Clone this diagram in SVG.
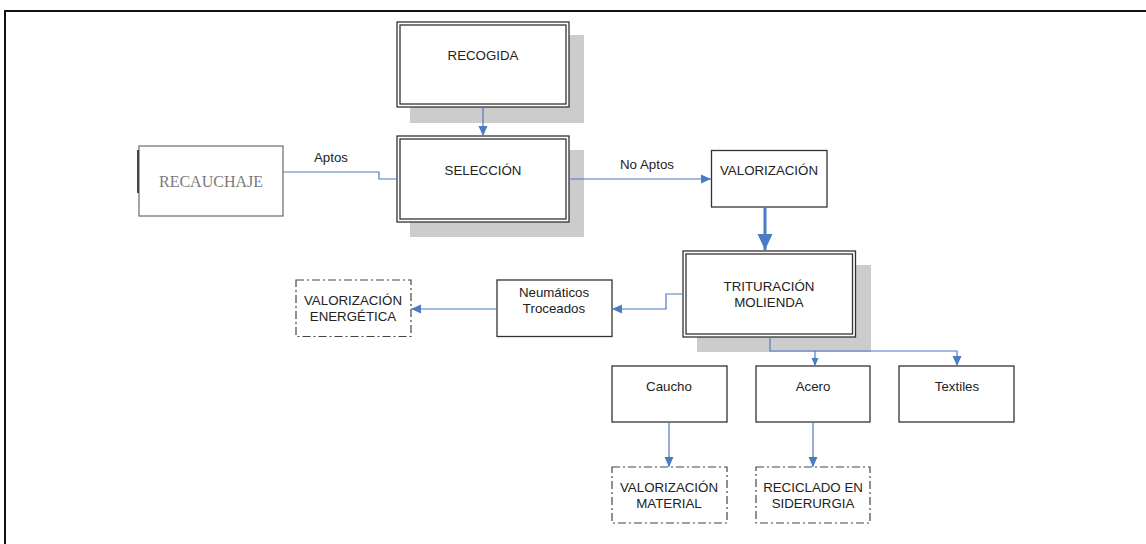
<svg xmlns="http://www.w3.org/2000/svg" width="1146" height="544" viewBox="0 0 1146 544">
<style>
.bg{fill:#ffffff}
.frame{fill:none;stroke:#111;stroke-width:2}
.shadow{fill:#cccccc}
.box{fill:#fff;stroke:#333;stroke-width:1.3}
.inner{fill:none;stroke:#333;stroke-width:1.3}
.dash{fill:#fff;stroke:#444;stroke-width:1.2;stroke-dasharray:8 3 2 3}
.gbox{fill:#fff;stroke:#777;stroke-width:1.3}
.t{font-family:"Liberation Sans",Arial,sans-serif;font-size:13.3px;fill:#222;text-anchor:middle}
.ts{font-family:"Liberation Serif","Times New Roman",serif;font-size:16px;fill:#7a7a7a;text-anchor:middle}
.c{fill:none;stroke:#4a7bc4;stroke-width:1.2}
.cb{fill:none;stroke:#4a7bc4;stroke-width:3}
</style>
<defs>
<marker id="arr" markerUnits="userSpaceOnUse" markerWidth="10" markerHeight="10" refX="10" refY="5" orient="auto">
<path d="M0,0.5 L10,5 L0,9.5 z" fill="#4a7bc4"/>
</marker>
<marker id="arrS" markerUnits="userSpaceOnUse" markerWidth="8" markerHeight="8" refX="8" refY="4" orient="auto">
<path d="M0,0.5 L8,4 L0,7.5 z" fill="#4a7bc4"/>
</marker>
<marker id="arrB" markerUnits="userSpaceOnUse" markerWidth="16" markerHeight="16" refX="16" refY="8" orient="auto">
<path d="M0,0.5 L16,8 L0,15.5 z" fill="#4a7bc4"/>
</marker>
</defs>
<rect class="bg" x="0" y="0" width="1146" height="544"/>
<path class="frame" d="M5,545 V11 H1147"/>

<g id="recogida">
<rect class="shadow" x="410" y="35" width="174" height="88"/>
<rect class="box" x="397" y="22" width="172" height="85"/>
<rect class="inner" x="400" y="25" width="166" height="79"/>
<text class="t" x="483" y="60">RECOGIDA</text>
</g>

<g id="seleccion">
<rect class="shadow" x="410" y="150" width="174" height="87"/>
<rect class="box" x="397" y="136" width="172" height="86"/>
<rect class="inner" x="400" y="139" width="166" height="80"/>
<text class="t" x="483" y="175">SELECCIÓN</text>
</g>

<g id="recauchaje">
<rect class="gbox" x="139" y="146" width="144" height="70"/>
<line x1="138" y1="150" x2="138" y2="193" stroke="#444" stroke-width="2"/>
<text class="ts" x="211" y="187">RECAUCHAJE</text>
</g>

<g id="valorizacion">
<rect class="box" x="711.5" y="150.5" width="115.5" height="56.5"/>
<text class="t" x="769" y="175">VALORIZACIÓN</text>
</g>

<g id="trituracion">
<rect class="shadow" x="697" y="265" width="174" height="87"/>
<rect class="box" x="683" y="251" width="172.5" height="86"/>
<rect class="inner" x="686" y="254" width="166.5" height="80"/>
<text class="t" x="769" y="291">TRITURACIÓN</text>
<text class="t" x="769" y="307">MOLIENDA</text>
</g>

<g id="neumaticos">
<rect class="box" x="497" y="280" width="115" height="56.5"/>
<text class="t" x="554" y="297">Neumáticos</text>
<text class="t" x="554" y="313">Troceados</text>
</g>

<g id="val-energetica">
<rect class="dash" x="296" y="280" width="115" height="56.5"/>
<text class="t" x="353" y="305">VALORIZACIÓN</text>
<text class="t" x="353" y="321">ENERGÉTICA</text>
</g>

<g id="caucho">
<rect class="box" x="612" y="366" width="115" height="56"/>
<text class="t" x="669" y="391">Caucho</text>
</g>

<g id="acero">
<rect class="box" x="756" y="366" width="114" height="56"/>
<text class="t" x="813" y="391">Acero</text>
</g>

<g id="textiles">
<rect class="box" x="899" y="366" width="115" height="56"/>
<text class="t" x="957" y="391">Textiles</text>
</g>

<g id="val-material">
<rect class="dash" x="612" y="467" width="115" height="56"/>
<text class="t" x="669" y="492">VALORIZACIÓN</text>
<text class="t" x="669" y="508">MATERIAL</text>
</g>

<g id="reciclado">
<rect class="dash" x="756" y="467" width="114" height="56"/>
<text class="t" x="813" y="492">RECICLADO EN</text>
<text class="t" x="813" y="508">SIDERURGIA</text>
</g>

<g id="connectors">
<path class="c" d="M483,107 V136" marker-end="url(#arr)"/>
<path class="c" d="M283,172 H379 V179 H397"/>
<path class="c" d="M569,179 H711" marker-end="url(#arr)"/>
<path class="cb" d="M765,207 V250" marker-end="url(#arrB)"/>
<path class="c" d="M683,294 H666 V309 H612" marker-end="url(#arr)"/>
<path class="c" d="M497,309 H411" marker-end="url(#arr)"/>
<path class="c" d="M770,337 V351 H957 V366" marker-end="url(#arr)"/>
<path class="c" d="M815,351 V366" marker-end="url(#arrS)"/>
<path class="c" d="M669,422 V467" marker-end="url(#arr)"/>
<path class="c" d="M813,422 V467" marker-end="url(#arr)"/>
<text class="t" x="331" y="162">Aptos</text>
<text class="t" x="647" y="169">No Aptos</text>
</g>
</svg>
